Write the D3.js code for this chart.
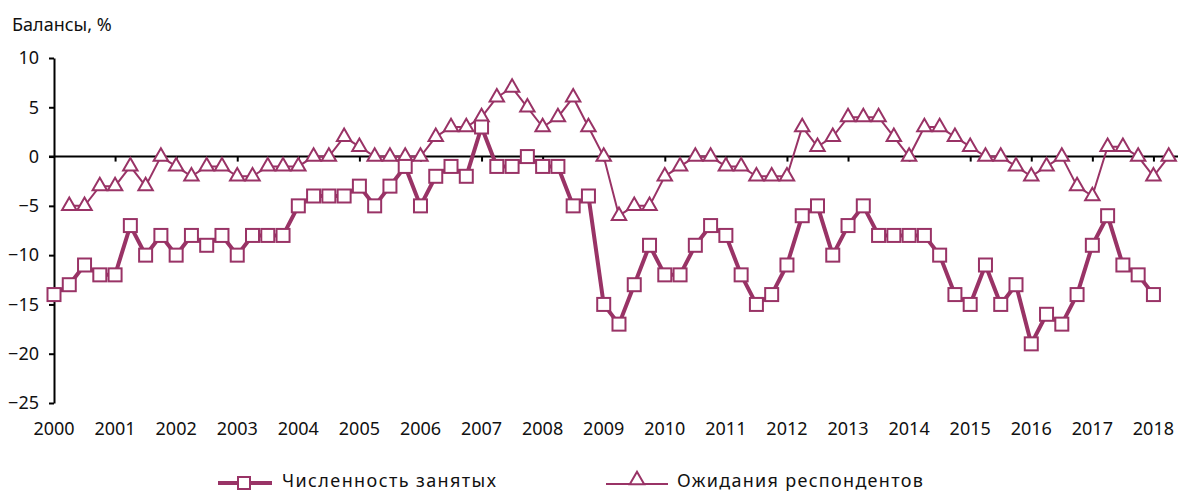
<!DOCTYPE html>
<html>
<head>
<meta charset="utf-8">
<script src="https://cdn.jsdelivr.net/npm/d3@7"></script>
<style>
  body { margin: 0; background: #fff; }
  svg { display: block; font-family: "Noto Sans", "DejaVu Sans", sans-serif; }
</style>
</head>
<body>
<div id="chart"></div>
<script>
// quarterly data, 2000 Q1 .. 2018 Q2
const years = d3.range(2000, 2019);
const yTicks = [10, 5, 0, -5, -10, -15, -20, -25];

// Численность занятых: 2000 Q1 .. 2018 Q1
const employment = [
  -14, -13, -11, -12, -12, -7, -10, -8, -10, -8, -9, -8, -10, -8, -8, -8,
  -5, -4, -4, -4, -3, -5, -3, -1, -5, -2, -1, -2, 3, -1, -1, 0,
  -1, -1, -5, -4, -15, -17, -13, -9, -12, -12, -9, -7, -8, -12, -15, -14,
  -11, -6, -5, -10, -7, -5, -8, -8, -8, -8, -10, -14, -15, -11, -15, -13,
  -19, -16, -17, -14, -9, -6, -11, -12, -14
];

// Ожидания респондентов: 2000 Q2 .. 2018 Q2
const expectations = [
  -5, -5, -3, -3, -1, -3, 0, -1, -2, -1, -1, -2, -2, -1, -1, -1,
  0, 0, 2, 1, 0, 0, 0, 0, 2, 3, 3, 4, 6, 7, 5, 3,
  4, 6, 3, 0, -6, -5, -5, -2, -1, 0, 0, -1, -1, -2, -2, -2,
  3, 1, 2, 4, 4, 4, 2, 0, 3, 3, 2, 1, 0, 0, -1, -2,
  -1, 0, -3, -4, 1, 1, 0, -2, 0
];

const color = "#993366";
const W = 1178, H = 493;

const svg = d3.select("#chart").append("svg")
  .attr("width", W)
  .attr("height", H);

const x = d3.scaleLinear().domain([0, 73]).range([54, 1168.7]);
const y = d3.scaleLinear().domain([-25, 10]).range([403, 58]);

// title
svg.append("text")
  .attr("x", 12)
  .attr("y", 31)
  .style("font-size", "18px")
  .attr("fill", "#111")
  .text("Балансы, %");

// y axis
const yAxis = svg.append("g")
  .attr("transform", `translate(${x(0)},0)`)
  .call(d3.axisLeft(y).tickValues(yTicks).tickSize(5).tickSizeOuter(0).tickPadding(10));
yAxis.select(".domain").attr("stroke", "#000").attr("stroke-width", 2);
yAxis.selectAll(".tick line").attr("stroke", "#000").attr("stroke-width", 2);
yAxis.selectAll("text")
  .style("font-size", "18px")
  .style("font-family", "\"Noto Sans\", sans-serif")
  .attr("fill", "#111");

// zero line with year ticks
const xAxis = svg.append("g")
  .attr("transform", `translate(0,${y(0)})`)
  .call(d3.axisBottom(x).tickValues(d3.range(4, 73, 4)).tickSize(5).tickSizeOuter(0).tickFormat(""));
xAxis.select(".domain").remove();
xAxis.selectAll(".tick line").attr("stroke", "#000").attr("stroke-width", 2);
svg.append("line")
  .attr("x1", x(0) - 5).attr("x2", W)
  .attr("y1", y(0)).attr("y2", y(0))
  .attr("stroke", "#000").attr("stroke-width", 2);

// year labels
svg.append("g").selectAll("text")
  .data(years)
  .join("text")
  .attr("x", (d, i) => x(i * 4))
  .attr("y", 435)
  .attr("text-anchor", "middle")
  .style("font-size", "18px")
  .attr("fill", "#111")
  .text(d => d);

// series
const empData = employment.map((v, i) => ({ i, v }));
const expData = expectations.map((v, i) => ({ i: i + 1, v }));

const line = d3.line().x(d => x(d.i)).y(d => y(d.v));

svg.append("path")
  .datum(expData)
  .attr("d", line)
  .attr("fill", "none")
  .attr("stroke", color)
  .attr("stroke-width", 2);

svg.append("path")
  .datum(empData)
  .attr("d", line)
  .attr("fill", "none")
  .attr("stroke", color)
  .attr("stroke-width", 4)
  .attr("stroke-linejoin", "round");

const tri = d3.symbol().type(d3.symbolTriangle).size(90);

svg.append("g").selectAll("path")
  .data(expData)
  .join("path")
  .attr("d", tri)
  .attr("transform", d => `translate(${x(d.i)},${y(d.v)})`)
  .attr("fill", "#fff")
  .attr("stroke", color)
  .attr("stroke-width", 2);

svg.append("g").selectAll("rect")
  .data(empData)
  .join("rect")
  .attr("x", d => x(d.i) - 6.5)
  .attr("y", d => y(d.v) - 6.5)
  .attr("width", 13)
  .attr("height", 13)
  .attr("fill", "#fff")
  .attr("stroke", color)
  .attr("stroke-width", 2);

// legend
const legend = svg.append("g");
legend.append("line")
  .attr("x1", 218).attr("x2", 272).attr("y1", 483).attr("y2", 483)
  .attr("stroke", color).attr("stroke-width", 4);
legend.append("rect")
  .attr("x", 238).attr("y", 477).attr("width", 12).attr("height", 12)
  .attr("fill", "#fff").attr("stroke", color).attr("stroke-width", 2);
legend.append("text")
  .attr("x", 282).attr("y", 487)
  .style("font-size", "18px")
  .style("letter-spacing", "1.4px")
  .attr("fill", "#111")
  .text("Численность занятых");

legend.append("line")
  .attr("x1", 606).attr("x2", 668).attr("y1", 484).attr("y2", 484)
  .attr("stroke", color).attr("stroke-width", 2);
legend.append("path")
  .attr("d", tri)
  .attr("transform", "translate(637,480)")
  .attr("fill", "#fff").attr("stroke", color).attr("stroke-width", 2);
legend.append("text")
  .attr("x", 677).attr("y", 487)
  .style("font-size", "18px")
  .style("letter-spacing", "1.3px")
  .attr("fill", "#111")
  .text("Ожидания респондентов");
</script>
</body>
</html>
